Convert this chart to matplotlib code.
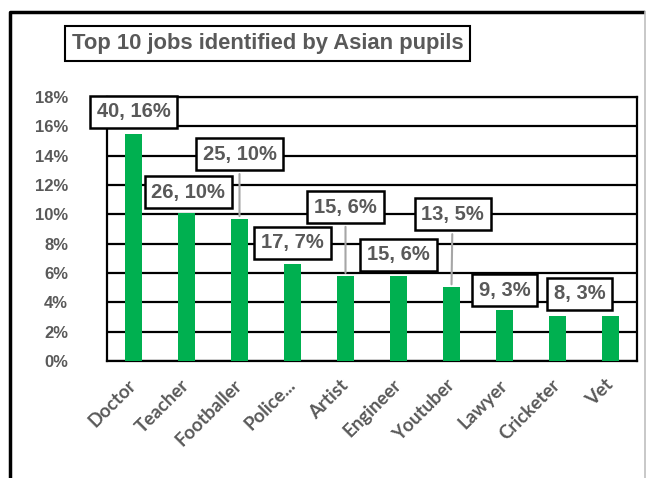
import matplotlib.pyplot as plt
from matplotlib.lines import Line2D
from matplotlib.ticker import FuncFormatter, MultipleLocator
from matplotlib.transforms import ScaledTranslation

jobs = ["Doctor", "Teacher", "Footballer", "Police...", "Artist",
        "Engineer", "Youtuber", "Lawyer", "Cricketer", "Vet"]
counts = [40, 26, 25, 17, 15, 15, 13, 9, 8, 8]
total_pupils = 258

# where each data label box sits (x in category units, y in percent);
# None means the bar is left unlabelled
label_pos = [(0.0, 17.0), (1.03, 11.5), (2.0, 14.1), (3.0, 8.05), (4.0, 10.5),
             (5.0, 7.23), (6.02, 10.0), (7.0, 4.84), (8.42, 4.57), None]
leader = [False, False, True, False, True, False, True, False, False, False]

GREEN = "#00B050"
GREY = "#595959"
W, H = 646, 478

pct = [100.0 * c / total_pupils for c in counts]

fig = plt.figure(figsize=(W / 100, H / 100), dpi=100)
ax = fig.add_axes([107 / W, 1 - 361 / H, 530 / W, 264 / H])

x = list(range(len(jobs)))
ax.bar(x, pct, width=0.32, color=GREEN, zorder=3)

ax.set_xlim(-0.5, len(jobs) - 0.5)
ax.set_ylim(0, 18)
ax.yaxis.set_major_locator(MultipleLocator(2))
ax.yaxis.set_major_formatter(FuncFormatter(lambda v, _: f"{v:.0f}%"))
ax.grid(axis="y", color="black", linewidth=1.6, zorder=1)
ax.set_axisbelow(True)
for s in ax.spines.values():
    s.set_color("black")
    s.set_linewidth(1.6)

ax.tick_params(axis="y", length=0, pad=28, labelcolor=GREY, labelsize=12)
for t in ax.get_yticklabels():
    t.set_fontfamily("Liberation Sans")
    t.set_fontweight("bold")

ax.set_xticks(x)
ax.set_xticklabels(jobs, rotation=45, ha="right", rotation_mode="anchor",
                   fontfamily="Lato", fontweight="bold", fontsize=13.5, color=GREY)
ax.tick_params(axis="x", length=0, pad=11)
shift = ScaledTranslation(-6 / 100, 0, fig.dpi_scale_trans)
for t in ax.get_xticklabels():
    t.set_transform(t.get_transform() + shift)

for i, pos in enumerate(label_pos):
    if pos is None:
        continue
    text = f"{counts[i]}, {round(pct[i])}%"
    arrow = dict(arrowstyle="-", color="#A6A6A6", lw=1.5) if leader[i] else None
    ax.annotate(text, xy=(i, pct[i]), xytext=pos, textcoords="data",
                ha="center", va="center", fontsize=14.5, fontweight="bold",
                fontfamily="Liberation Sans", color=GREY, zorder=5,
                annotation_clip=False,
                bbox=dict(boxstyle="square,pad=0.33", fc="white", ec="black", lw=1.8),
                arrowprops=arrow)

fig.text(267.5 / W, 1 - 43.5 / H, "Top 10 jobs identified by Asian pupils",
         ha="center", va="center", fontsize=15.8, fontweight="bold",
         fontfamily="Liberation Sans", color=GREY,
         bbox=dict(boxstyle="square,pad=0.3", fc="white", ec="black", lw=1.5))

# chart-area frame: heavy on left/top, light on the right
fig.add_artist(Line2D([9.5 / W, 9.5 / W, 643 / W], [0, 1 - 12 / H, 1 - 12 / H],
                      transform=fig.transFigure, color="black", lw=2.5))
fig.add_artist(Line2D([644.5 / W, 644.5 / W], [0, 1 - 12 / H],
                      transform=fig.transFigure, color="#BFBFBF", lw=1.2))

fig.savefig("out.png", dpi=100)
